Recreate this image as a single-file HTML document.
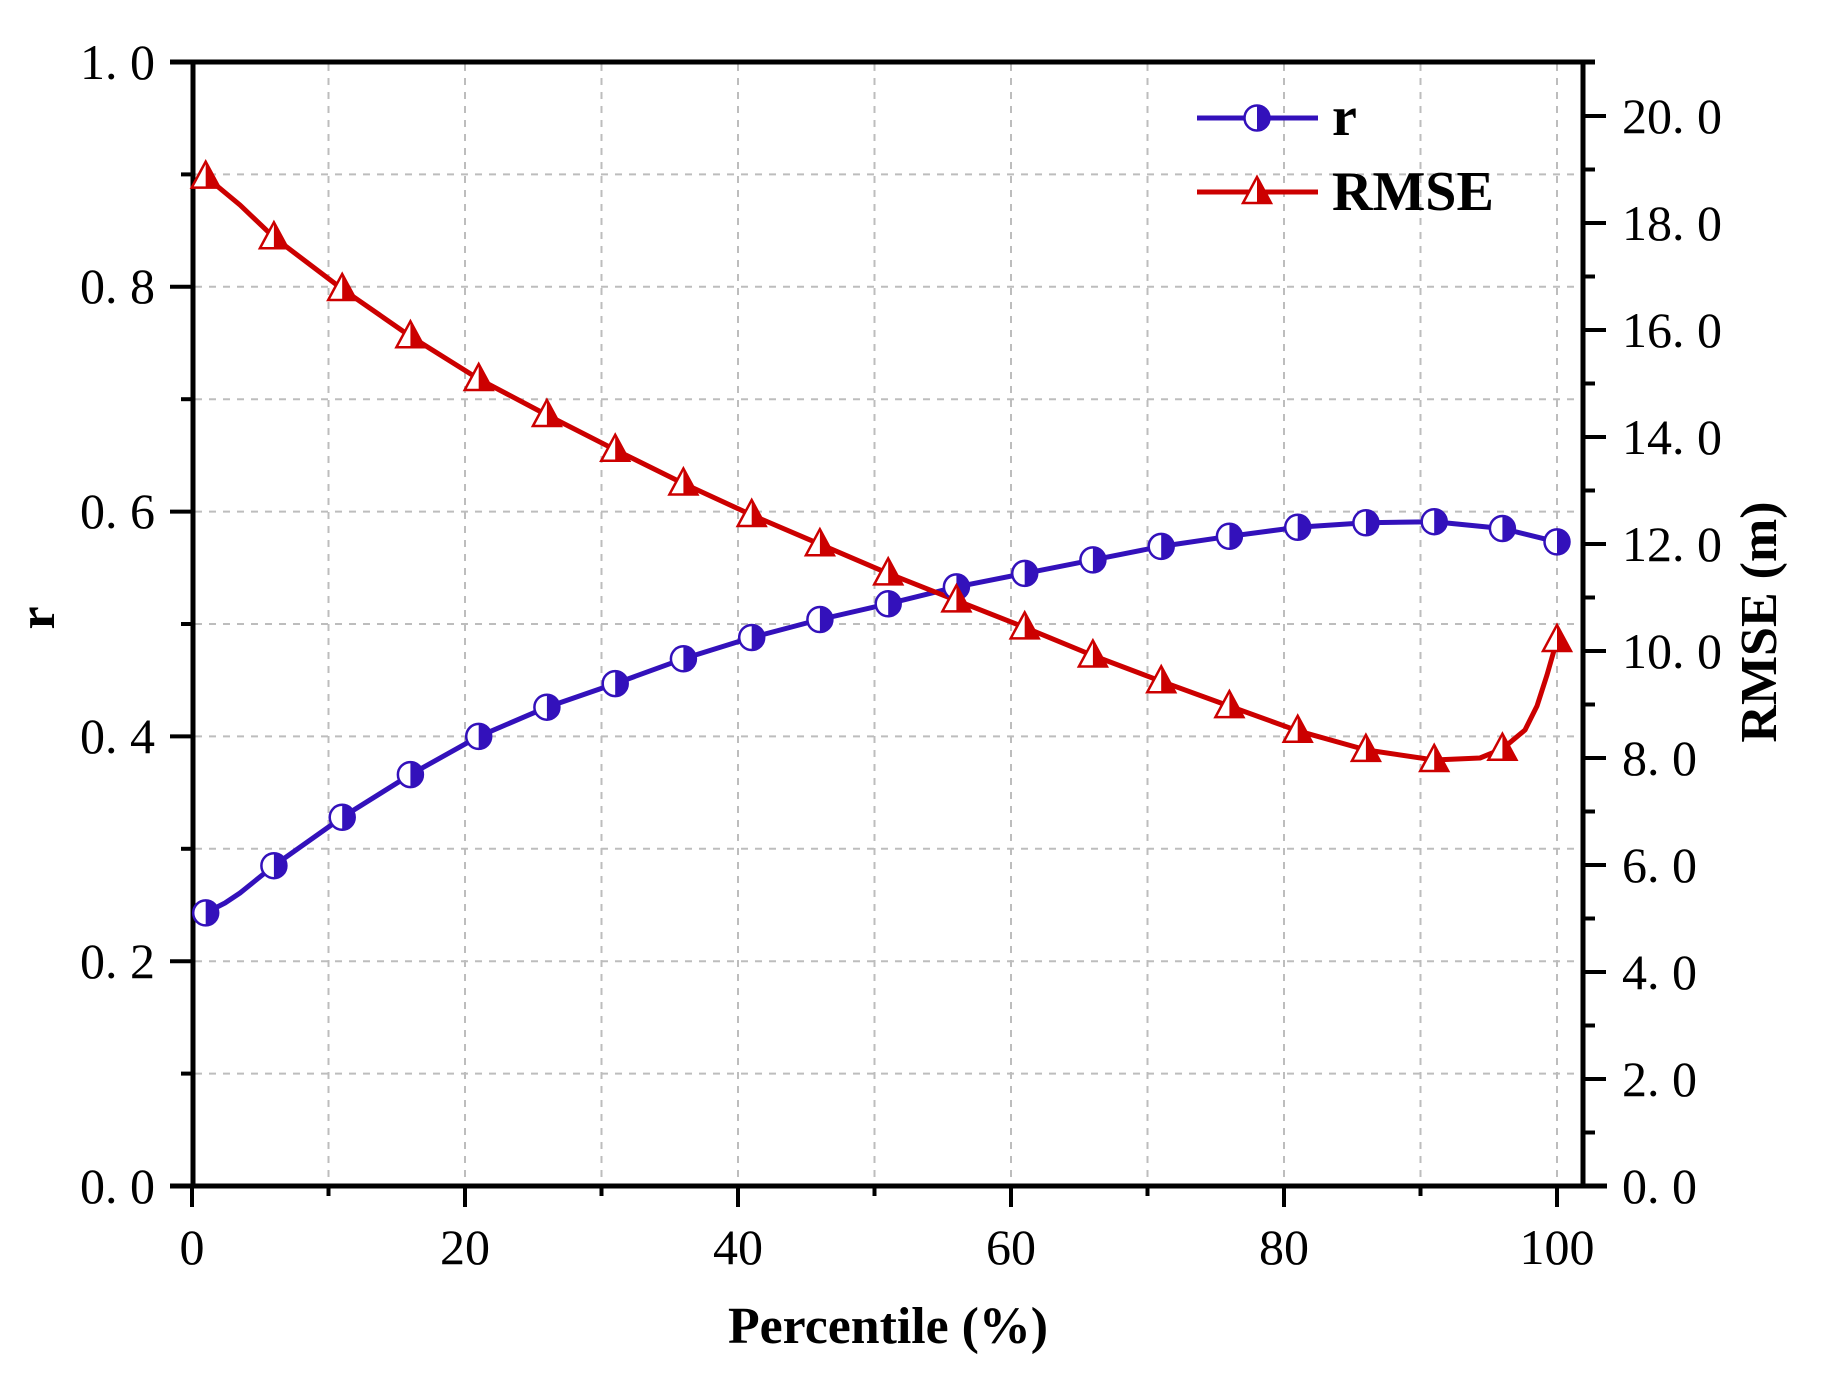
<!DOCTYPE html>
<html><head><meta charset="utf-8"><style>html,body{margin:0;padding:0;background:#fff}svg{display:block}</style></head>
<body>
<svg width="1829" height="1379" viewBox="0 0 1829 1379" xmlns="http://www.w3.org/2000/svg" font-family="'Liberation Serif', serif">
<defs>
<g id="circ"><circle cx="0" cy="0" r="12.5" fill="#fff" stroke="#3311bb" stroke-width="2.5"/><path d="M0,-12.5 A12.5,12.5 0 0 1 0,12.5 Z" fill="#3311bb"/></g>
<g id="tri"><path d="M0,-15 L-14,11 L14,11 Z" fill="#fff" stroke="#cc0000" stroke-width="2.5" stroke-linejoin="miter"/><path d="M0,-15 L14,11 L0,11 Z" fill="#cc0000"/></g>
</defs>
<g stroke="#bdbdbd" stroke-width="2" stroke-dasharray="7,7">
<line x1="328.5" y1="64" x2="328.5" y2="1184"/><line x1="465" y1="64" x2="465" y2="1184"/><line x1="601.5" y1="64" x2="601.5" y2="1184"/><line x1="738" y1="64" x2="738" y2="1184"/><line x1="874.5" y1="64" x2="874.5" y2="1184"/><line x1="1011" y1="64" x2="1011" y2="1184"/><line x1="1147.5" y1="64" x2="1147.5" y2="1184"/><line x1="1284" y1="64" x2="1284" y2="1184"/><line x1="1420.5" y1="64" x2="1420.5" y2="1184"/><line x1="1557" y1="64" x2="1557" y2="1184"/>
<line x1="195" y1="1073.6" x2="1581" y2="1073.6"/><line x1="195" y1="961.2" x2="1581" y2="961.2"/><line x1="195" y1="848.8" x2="1581" y2="848.8"/><line x1="195" y1="736.4" x2="1581" y2="736.4"/><line x1="195" y1="624" x2="1581" y2="624"/><line x1="195" y1="511.6" x2="1581" y2="511.6"/><line x1="195" y1="399.2" x2="1581" y2="399.2"/><line x1="195" y1="286.8" x2="1581" y2="286.8"/><line x1="195" y1="174.4" x2="1581" y2="174.4"/>
</g>
<g stroke="#000" stroke-width="5">
<line x1="193" y1="60" x2="193" y2="1188"/><line x1="1583" y1="60" x2="1583" y2="1188"/>
<line x1="170" y1="1186" x2="1607" y2="1186"/><line x1="170" y1="62" x2="1595" y2="62"/>
</g>
<g stroke="#000" stroke-width="4">
<line x1="170" y1="62" x2="193" y2="62"/><line x1="170" y1="286.8" x2="193" y2="286.8"/><line x1="170" y1="511.6" x2="193" y2="511.6"/><line x1="170" y1="736.4" x2="193" y2="736.4"/><line x1="170" y1="961.2" x2="193" y2="961.2"/>
<line x1="181" y1="174.4" x2="193" y2="174.4"/><line x1="181" y1="399.2" x2="193" y2="399.2"/><line x1="181" y1="624" x2="193" y2="624"/><line x1="181" y1="848.8" x2="193" y2="848.8"/><line x1="181" y1="1073.6" x2="193" y2="1073.6"/>
<line x1="192" y1="1186" x2="192" y2="1207"/><line x1="465" y1="1186" x2="465" y2="1207"/><line x1="738" y1="1186" x2="738" y2="1207"/><line x1="1011" y1="1186" x2="1011" y2="1207"/><line x1="1284" y1="1186" x2="1284" y2="1207"/><line x1="1557" y1="1186" x2="1557" y2="1207"/>
<line x1="328.5" y1="1186" x2="328.5" y2="1196"/><line x1="601.5" y1="1186" x2="601.5" y2="1196"/><line x1="874.5" y1="1186" x2="874.5" y2="1196"/><line x1="1147.5" y1="1186" x2="1147.5" y2="1196"/><line x1="1420.5" y1="1186" x2="1420.5" y2="1196"/>
<line x1="1583" y1="1079" x2="1606" y2="1079"/><line x1="1583" y1="972" x2="1606" y2="972"/><line x1="1583" y1="865" x2="1606" y2="865"/><line x1="1583" y1="758" x2="1606" y2="758"/><line x1="1583" y1="651" x2="1606" y2="651"/><line x1="1583" y1="544" x2="1606" y2="544"/><line x1="1583" y1="437" x2="1606" y2="437"/><line x1="1583" y1="330" x2="1606" y2="330"/><line x1="1583" y1="223" x2="1606" y2="223"/><line x1="1583" y1="116" x2="1606" y2="116"/>
<line x1="1583" y1="1132.5" x2="1595" y2="1132.5"/><line x1="1583" y1="1025.5" x2="1595" y2="1025.5"/><line x1="1583" y1="918.5" x2="1595" y2="918.5"/><line x1="1583" y1="811.5" x2="1595" y2="811.5"/><line x1="1583" y1="704.5" x2="1595" y2="704.5"/><line x1="1583" y1="597.5" x2="1595" y2="597.5"/><line x1="1583" y1="490.5" x2="1595" y2="490.5"/><line x1="1583" y1="383.5" x2="1595" y2="383.5"/><line x1="1583" y1="276.5" x2="1595" y2="276.5"/><line x1="1583" y1="169.5" x2="1595" y2="169.5"/>
</g>
<g font-size="50" fill="#000">
<g text-anchor="end">
<text x="155" y="1203">0. 0</text><text x="155" y="978">0. 2</text><text x="155" y="753">0. 4</text><text x="155" y="528">0. 6</text><text x="155" y="303">0. 8</text><text x="155" y="79">1. 0</text>
</g>
<g text-anchor="middle">
<text x="192" y="1264">0</text><text x="465" y="1264">20</text><text x="738" y="1264">40</text><text x="1011" y="1264">60</text><text x="1284" y="1264">80</text><text x="1557" y="1264">100</text>
</g>
<g>
<text x="1622" y="1203">0. 0</text><text x="1622" y="1096">2. 0</text><text x="1622" y="989">4. 0</text><text x="1622" y="882">6. 0</text><text x="1622" y="775">8. 0</text><text x="1622" y="668">10. 0</text><text x="1622" y="561">12. 0</text><text x="1622" y="454">14. 0</text><text x="1622" y="347">16. 0</text><text x="1622" y="240">18. 0</text><text x="1622" y="133">20. 0</text>
</g>
</g>
<g font-weight="bold" fill="#000">
<text x="888" y="1343" font-size="52" text-anchor="middle" textLength="320" lengthAdjust="spacingAndGlyphs">Percentile (%)</text>
<text transform="translate(54,618) rotate(-90)" font-size="52" text-anchor="middle">r</text>
<text transform="translate(1776,622) rotate(-90)" font-size="52" text-anchor="middle">RMSE (m)</text>
</g>
<polyline fill="none" stroke="#3311bb" stroke-width="5" stroke-linejoin="round" points="205.7,912.9 225,903 240,893 273.9,865.7 342.2,817.3 410.4,774.6 478.7,736.4 546.9,707.2 615.2,683.6 683.4,658.8 751.7,637.5 819.9,619.5 888.2,603.8 956.4,586.9 1024.7,573.4 1092.9,559.9 1161.2,546.4 1229.4,536.3 1297.7,527.3 1365.9,522.8 1434.2,521.7 1502.4,528.5 1557,541.9"/>
<polyline fill="none" stroke="#cc0000" stroke-width="5" stroke-linejoin="round" points="205.7,176.6 240,205 273.9,237.3 342.2,289 410.4,336.3 478.7,379 546.9,415 615.2,449.8 683.4,483.5 751.7,515 819.9,544.2 888.2,573.4 956.4,600.4 1024.7,627.4 1092.9,655.5 1161.2,681.3 1229.4,706.1 1297.7,730.8 1365.9,749.9 1434.2,760 1480,758 1502.4,748.8 1525,730 1537,706 1547,675 1557,640"/>
<g>
<use href="#circ" x="205.7" y="912.9"/><use href="#circ" x="273.9" y="865.7"/><use href="#circ" x="342.2" y="817.3"/><use href="#circ" x="410.4" y="774.6"/><use href="#circ" x="478.7" y="736.4"/><use href="#circ" x="546.9" y="707.2"/><use href="#circ" x="615.2" y="683.6"/><use href="#circ" x="683.4" y="658.8"/><use href="#circ" x="751.7" y="637.5"/><use href="#circ" x="819.9" y="619.5"/><use href="#circ" x="888.2" y="603.8"/><use href="#circ" x="956.4" y="586.9"/><use href="#circ" x="1024.7" y="573.4"/><use href="#circ" x="1092.9" y="559.9"/><use href="#circ" x="1161.2" y="546.4"/><use href="#circ" x="1229.4" y="536.3"/><use href="#circ" x="1297.7" y="527.3"/><use href="#circ" x="1365.9" y="522.8"/><use href="#circ" x="1434.2" y="521.7"/><use href="#circ" x="1502.4" y="528.5"/><use href="#circ" x="1557" y="541.9"/>
</g>
<g>
<use href="#tri" x="205.7" y="176.6"/><use href="#tri" x="273.9" y="237.3"/><use href="#tri" x="342.2" y="289"/><use href="#tri" x="410.4" y="336.3"/><use href="#tri" x="478.7" y="379"/><use href="#tri" x="546.9" y="415"/><use href="#tri" x="615.2" y="449.8"/><use href="#tri" x="683.4" y="483.5"/><use href="#tri" x="751.7" y="515"/><use href="#tri" x="819.9" y="544.2"/><use href="#tri" x="888.2" y="573.4"/><use href="#tri" x="956.4" y="600.4"/><use href="#tri" x="1024.7" y="627.4"/><use href="#tri" x="1092.9" y="655.5"/><use href="#tri" x="1161.2" y="681.3"/><use href="#tri" x="1229.4" y="706.1"/><use href="#tri" x="1297.7" y="730.8"/><use href="#tri" x="1365.9" y="749.9"/><use href="#tri" x="1434.2" y="760"/><use href="#tri" x="1502.4" y="748.8"/><use href="#tri" x="1557" y="640"/>
</g>
<line x1="1197" y1="118" x2="1318" y2="118" stroke="#3311bb" stroke-width="5"/>
<use href="#circ" x="1257" y="118"/>
<line x1="1197" y1="192" x2="1318" y2="192" stroke="#cc0000" stroke-width="5"/>
<use href="#tri" x="1257" y="192"/>
<g font-weight="bold" font-size="56" fill="#000">
<text x="1332" y="135">r</text>
<text x="1332" y="210">RMSE</text>
</g>
</svg>
</body></html>
